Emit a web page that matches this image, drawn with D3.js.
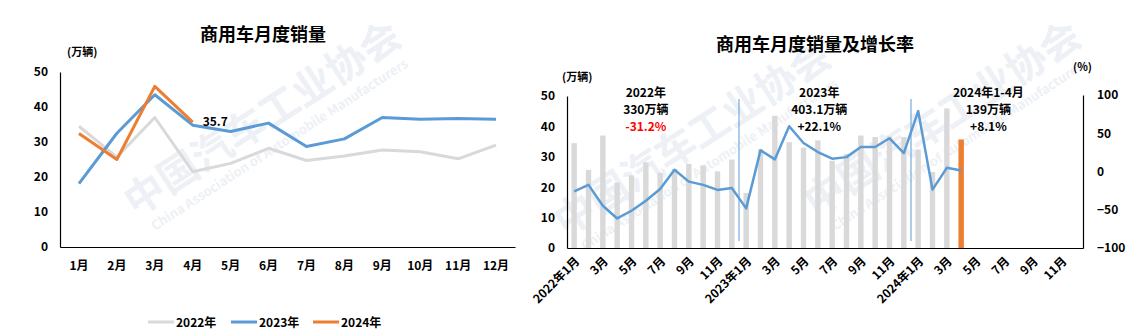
<!DOCTYPE html>
<html>
<head>
<meta charset="utf-8">
<script src="https://cdn.jsdelivr.net/npm/d3@7"></script>
<style>
  body { margin: 0; background: #fff; }
  svg text { font-family: "Noto Sans CJK SC", "Noto Sans", sans-serif; font-weight: bold; fill: #000; }
</style>
</head>
<body>
<svg id="chart" width="1148" height="331"></svg>
<script>
// month names for the left chart
var months = ["1月","2月","3月","4月","5月","6月","7月","8月","9月","10月","11月","12月"];
// sales, 10k vehicles
var sales2022 = [34.5, 25.7, 37.0, 21.5, 23.9, 28.2, 24.7, 26.0, 27.7, 27.2, 25.2, 29.1];
var sales2023 = [18.1, 32.5, 43.5, 34.8, 33.0, 35.4, 28.7, 30.9, 37.0, 36.5, 36.7, 36.5];
var sales2024 = [32.4, 25.0, 45.9, 35.7];
// year-on-year growth, %
var growth = [-26, -17.5, -44.7, -61.4, -51.3, -38.2, -22.8, 2.2, -13.2, -17.5, -24.1, -21.5,
              -48.2, 27.6, 15.8, 59.2, 37.3, 25.4, 16.7, 18.8, 32, 32, 43.4, 24,
              79, -23.7, 4.8, 1.3];
var leftTicks = [0, 10, 20, 30, 40, 50];
var rightTicks = [-100, -50, 0, 50, 100];
var yearNotes = [
  {year: "2022年", total: "330万辆", rate: "-31.2%", red: true, idx: 5.5},
  {year: "2023年", total: "403.1万辆", rate: "+22.1%", red: false, idx: 17.6},
  {year: "2024年1-4月", total: "139万辆", rate: "+8.1%", red: false, idx: 29.4}
];

var gray = "#d9d9d9", blue = "#5b9bd5", orange = "#ed7d31";
var svg = d3.select("#chart");

// faint watermark
function watermark(x, y) {
  var g = svg.append("g").attr("transform", "translate(" + x + "," + y + ") rotate(-33)");
  g.append("text").text("中国汽车工业协会").attr("font-size", 40)
    .style("fill", "#edf1f6").attr("text-anchor", "middle");
  g.append("text").text("China Association of Automobile Manufacturers").attr("y", 22)
    .attr("font-size", 13).style("fill", "#edf1f6").attr("text-anchor", "middle");
}
watermark(270, 130);
watermark(700, 150);
watermark(950, 130);

// ---------- left chart ----------
var L = {left: 60, right: 515, top: 72, bottom: 247};
var x1 = d3.scaleBand().domain(months).range([L.left, L.right]);
var y1 = d3.scaleLinear().domain([0, 50]).range([L.bottom, L.top]);

svg.append("text").attr("x", 263).attr("y", 41).attr("text-anchor", "middle")
  .attr("font-size", 18).text("商用车月度销量");
svg.append("text").attr("x", 67).attr("y", 56).attr("font-size", 11).text("(万辆)");

var gy1 = svg.append("g").attr("transform", "translate(" + L.left + ",0)")
  .call(d3.axisLeft(y1).tickValues(leftTicks).tickSize(0).tickPadding(12));
gy1.select(".domain").attr("stroke", "#000").attr("stroke-width", 1.2);
gy1.selectAll("text").attr("font-size", 12);

var gx1 = svg.append("g").attr("transform", "translate(0," + L.bottom + ")")
  .call(d3.axisBottom(x1).tickSize(0).tickPadding(14));
gx1.select(".domain").attr("stroke", "#000").attr("stroke-width", 1.2);
gx1.selectAll("text").attr("font-size", 12);

var line1 = d3.line()
  .x(function(d, i) { return x1(months[i]) + x1.bandwidth() / 2; })
  .y(function(d) { return y1(d); });

[[sales2022, gray], [sales2023, blue], [sales2024, orange]].forEach(function(s) {
  svg.append("path").attr("d", line1(s[0])).attr("fill", "none")
    .attr("stroke", s[1]).attr("stroke-width", 3).attr("stroke-linejoin", "round");
});

svg.append("text")
  .attr("x", x1(months[3]) + x1.bandwidth() / 2 + 10)
  .attr("y", y1(sales2024[3]) + 4)
  .attr("font-size", 12).text(sales2024[3].toFixed(1));

// legend
var legend = [["2022年", gray, 148], ["2023年", blue, 231], ["2024年", orange, 313]];
legend.forEach(function(d) {
  svg.append("line").attr("x1", d[2]).attr("x2", d[2] + 26).attr("y1", 322).attr("y2", 322)
    .attr("stroke", d[1]).attr("stroke-width", 3);
  svg.append("text").attr("x", d[2] + 28).attr("y", 327).attr("font-size", 12).text(d[0]);
});

// ---------- right chart ----------
var R = {left: 567, right: 1083, top: 96, bottom: 248};
var allSales = sales2022.concat(sales2023, sales2024);
var monthIdx = d3.range(36);
var x2 = d3.scaleBand().domain(monthIdx).range([R.left, R.right]);
var y2 = d3.scaleLinear().domain([0, 50]).range([R.bottom, R.top]);
var y3 = d3.scaleLinear().domain([-100, 100]).range([R.bottom, R.top - 1]);

svg.append("text").attr("x", 815).attr("y", 51).attr("text-anchor", "middle")
  .attr("font-size", 18).text("商用车月度销量及增长率");
svg.append("text").attr("x", 562).attr("y", 81).attr("font-size", 11).text("(万辆)");
svg.append("text").attr("x", 1073).attr("y", 71).attr("font-size", 11).text("(%)");

// bars
svg.append("g").selectAll("rect").data(allSales).join("rect")
  .attr("x", function(d, i) { return x2(i) + x2.bandwidth() / 2 - 2.7; })
  .attr("width", 5.4)
  .attr("y", function(d) { return y2(d); })
  .attr("height", function(d) { return y2(0) - y2(d); })
  .attr("fill", function(d, i) { return i === allSales.length - 1 ? orange : gray; });

// year separators
[12, 24].forEach(function(i) {
  svg.append("line").attr("x1", x2(i)).attr("x2", x2(i)).attr("y1", 99).attr("y2", 241)
    .attr("stroke", blue).attr("stroke-width", 1);
});

var line2 = d3.line()
  .x(function(d, i) { return x2(i) + x2.bandwidth() / 2; })
  .y(function(d) { return y3(d); });
svg.append("path").attr("d", line2(growth)).attr("fill", "none")
  .attr("stroke", blue).attr("stroke-width", 2.5).attr("stroke-linejoin", "round");

var gy2 = svg.append("g").attr("transform", "translate(" + R.left + ",0)")
  .call(d3.axisLeft(y2).tickValues(leftTicks).tickSize(0).tickPadding(12));
gy2.select(".domain").attr("stroke", "#000").attr("stroke-width", 1.2);
gy2.selectAll("text").attr("font-size", 12);

var gy3 = svg.append("g").attr("transform", "translate(" + R.right + ",0)")
  .call(d3.axisRight(y3).tickValues(rightTicks).tickSize(0).tickPadding(14));
gy3.select(".domain").attr("stroke", "#000").attr("stroke-width", 1.2);
gy3.selectAll("text").attr("font-size", 12);

function monthLabel(i) {
  var m = i % 12 + 1;
  return m === 1 ? (2022 + Math.floor(i / 12)) + "年1月" : m + "月";
}
var gx2 = svg.append("g").attr("transform", "translate(0," + R.bottom + ")")
  .call(d3.axisBottom(x2).tickValues(monthIdx.filter(function(i) { return i % 2 === 0; }))
    .tickSize(0).tickFormat(monthLabel));
gx2.select(".domain").attr("stroke", "#000").attr("stroke-width", 1.2);
gx2.selectAll("text").attr("font-size", 12)
  .attr("text-anchor", "end").attr("dy", null).attr("y", 0)
  .attr("transform", "translate(6,14) rotate(-45)");

// year notes
yearNotes.forEach(function(n) {
  var cx = x2(0) + x2.step() * n.idx;
  svg.append("text").attr("x", cx).attr("y", 97).attr("text-anchor", "middle")
    .attr("font-size", 12).text(n.year);
  svg.append("text").attr("x", cx).attr("y", 114).attr("text-anchor", "middle")
    .attr("font-size", 12).text(n.total);
  svg.append("text").attr("x", cx).attr("y", 131).attr("text-anchor", "middle")
    .attr("font-size", 12).style("fill", n.red ? "#ff0000" : "#000").text(n.rate);
});
</script>
</body>
</html>
